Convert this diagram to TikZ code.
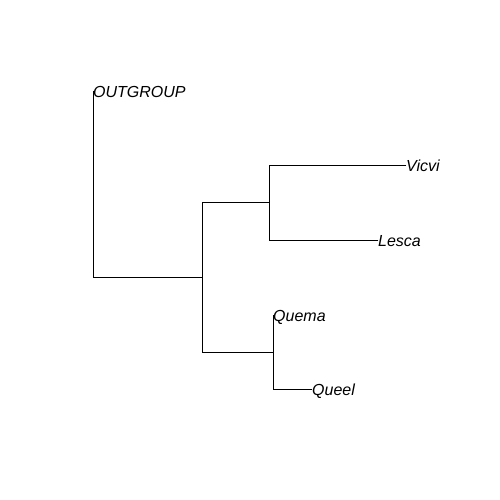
\documentclass[tikz,border=0pt]{standalone}
\usepackage{fontspec}
\setmainfont{Liberation Sans}
\begin{document}
\begin{tikzpicture}[x=1pt,y=-1pt,
  branch/.style={draw=black,line width=0.8pt,line cap=rect},
  tip/.style={anchor=base west,inner sep=0pt,yshift=-6.3pt,font=\fontsize{16}{18}\selectfont\itshape}]
\useasboundingbox[fill=white] (0,0) rectangle (500,500);
% internal nodes
\coordinate (root) at (93,277);
\coordinate (n1) at (202,277);
\coordinate (n2) at (269,202);
\coordinate (n3) at (273,352);
% tips
\coordinate (tOUT) at (93,91);
\coordinate (tVic) at (406,165);
\coordinate (tLes) at (378,240);
\coordinate (tQma) at (273,315);
\coordinate (tQel) at (312,389);
% branches
\draw[branch] (tOUT) -- (root) -- (n1);
\draw[branch] (n1 |- n2) -- (n1 |- n3);
\draw[branch] (n1 |- n2) -- (n2);
\draw[branch] (n1 |- n3) -- (n3);
\draw[branch] (n2 |- tVic) -- (n2 |- tLes);
\draw[branch] (n2 |- tVic) -- (tVic);
\draw[branch] (n2 |- tLes) -- (tLes);
\draw[branch] (n3 |- tQma) -- (n3 |- tQel);
\draw[branch] (n3 |- tQel) -- (tQel);
% labels
\node[tip] (lOUT) at (tOUT) {OUTGROUP};
\node[tip] (lVic) at (tVic) {Vicvi};
\node[tip] (lLes) at (tLes) {Lesca};
\node[tip] (lQma) at (tQma) {Quema};
\node[tip] (lQel) at (tQel) {Queel};
\end{tikzpicture}
\end{document}
